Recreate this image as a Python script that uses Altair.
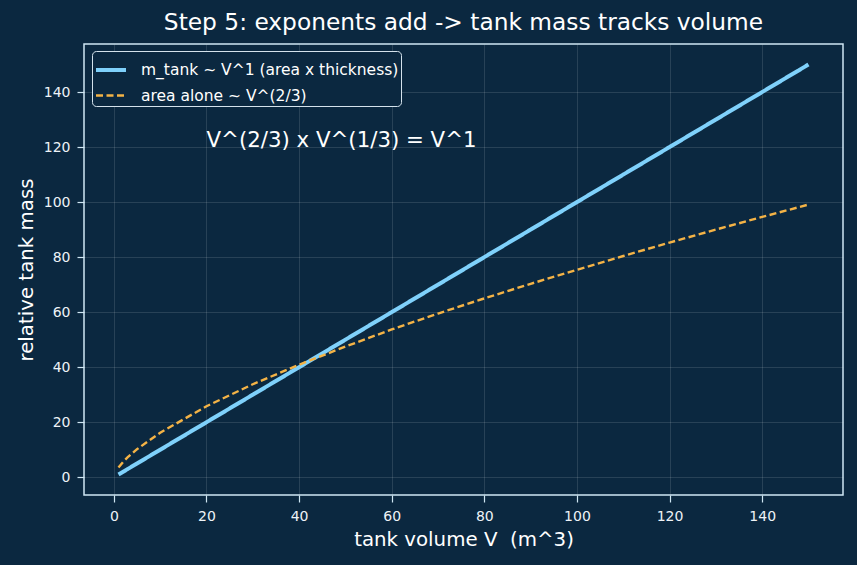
import altair as alt
import pandas as pd

volume = [1, 2, 3, 5, 10, 20, 30, 40, 50, 60, 70, 80, 90, 100, 110, 120, 130, 140, 150]
mass_linear = [1, 2, 3, 5, 10, 20, 30, 40, 50, 60, 70, 80, 90, 100, 110, 120, 130, 140, 150]
area_only = [3.5, 5.6, 7.3, 10.2, 16.2, 25.8, 33.8, 40.9, 47.5, 53.7, 59.5, 65.0, 70.3,
             75.4, 80.4, 85.3, 90.0, 94.6, 99.1]
series_names = ["m_tank ~ V^1 (area x thickness)", "area alone ~ V^(2/3)"]
series_colors = ["#7fd1fb", "#f4b346"]
tick_values = [0, 20, 40, 60, 80, 100, 120, 140]

rows = []
for v, m in zip(volume, mass_linear):
    rows.append({"V": v, "y": m, "series": series_names[0]})
for v, a in zip(volume, area_only):
    rows.append({"V": v, "y": a, "series": series_names[1]})
df = pd.DataFrame(rows)

BG = "#0b2840"
FONT = "DejaVu Sans"

xscale = alt.Scale(domain=[-6.45, 157.45], nice=False, zero=False)
yscale = alt.Scale(domain=[-6.45, 157.45], nice=False, zero=False)

legend = alt.Legend(
    orient="none", legendX=8, legendY=7,
    symbolType="stroke", symbolSize=900,
    labelColor="#ffffff", labelFontSize=15.5, labelFont=FONT, labelLimit=500,
    fillColor=BG, strokeColor="#d4e2ec", cornerRadius=4,
    padding=2, rowPadding=0, labelOffset=13,
)

lines = alt.Chart(df).mark_line(strokeCap="butt").encode(
    x=alt.X("V:Q", scale=xscale, title="tank volume V\u00a0 (m^3)",
            axis=alt.Axis(values=tick_values)),
    y=alt.Y("y:Q", scale=yscale, title="relative tank mass",
            axis=alt.Axis(values=tick_values)),
    color=alt.Color("series:N", scale=alt.Scale(domain=series_names, range=series_colors),
                    title=None, legend=legend),
    strokeDash=alt.StrokeDash("series:N",
                              scale=alt.Scale(domain=series_names, range=[[1, 0], [7, 3.5]]),
                              legend=None),
    strokeWidth=alt.StrokeWidth("series:N",
                                scale=alt.Scale(domain=series_names, range=[4, 2.4]),
                                legend=None),
    order=alt.Order("V:Q"),
)

note_df = pd.DataFrame({"V": [20], "y": [120], "label": ["V^(2/3) x V^(1/3) = V^1"]})
note = alt.Chart(note_df).mark_text(align="left", baseline="alphabetic", fontSize=21.3,
                                    color="#ffffff", font=FONT).encode(
    x=alt.X("V:Q", scale=xscale), y=alt.Y("y:Q", scale=yscale), text="label:N")

chart = alt.layer(lines, note).properties(
    width=759, height=451,
    title=alt.Title("Step 5: exponents add -> tank mass tracks volume", fontSize=23.3,
                    color="#ffffff", font=FONT, fontWeight="normal", offset=9),
    background=BG,
    padding={"left": 84, "top": 44, "right": 14, "bottom": 70},
    autosize=alt.AutoSizeParams(type="none"),
).configure_view(stroke="#cfe6f3", strokeWidth=1.5, fill=BG).configure_axis(
    labelColor="#eef3f7", labelFontSize=14, labelFont=FONT, titleFont=FONT,
    titleColor="#ffffff", titleFontSize=19.8, titleFontWeight="normal",
    domain=False, tickColor="#cfe6f3", tickSize=7, tickWidth=1.2,
    gridColor="#ffffff", gridOpacity=0.12, labelPadding=7,
).configure_axisX(titlePadding=6).configure_axisY(titlePadding=7)

chart.save("out.html", embed_options={"renderer": "svg", "actions": False})
